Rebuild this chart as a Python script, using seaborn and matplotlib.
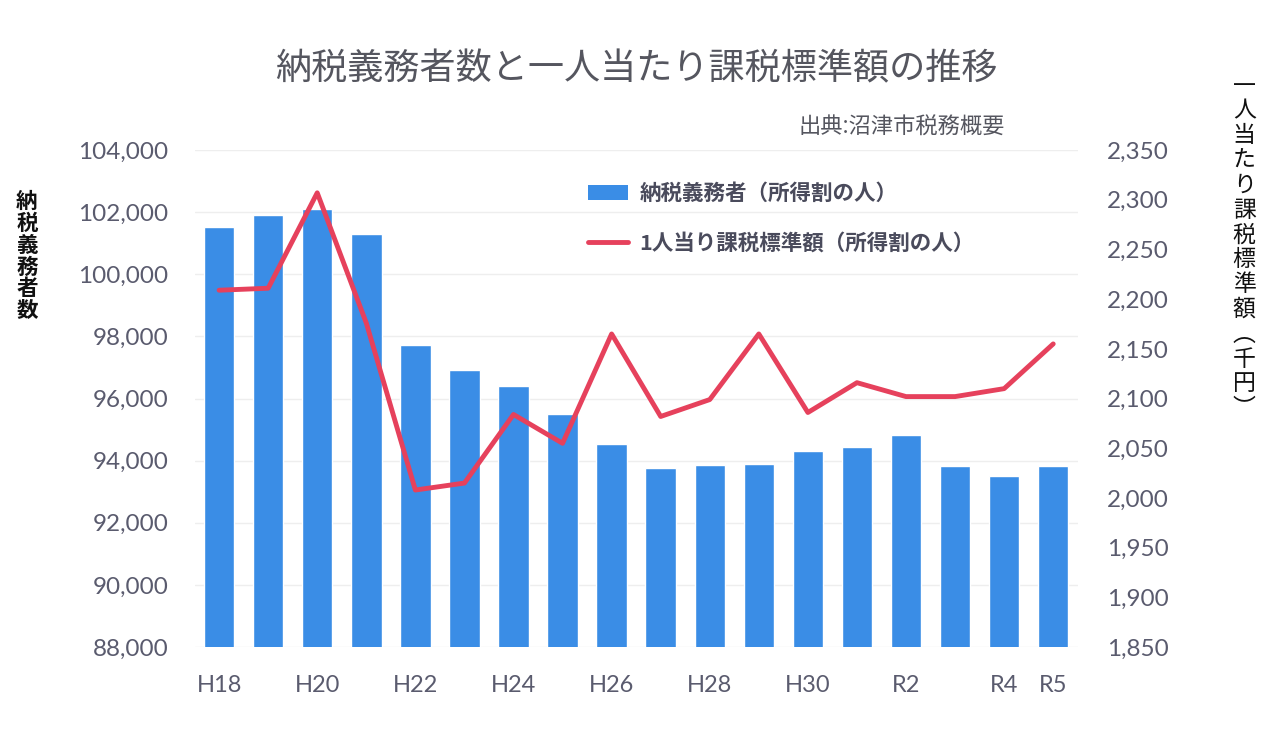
import matplotlib.pyplot as plt
import numpy as np
import pandas as pd
import seaborn as sns
from matplotlib.lines import Line2D
from matplotlib.patches import Patch

# 年度ごとのデータ
years = ['H18', 'H19', 'H20', 'H21', 'H22', 'H23', 'H24', 'H25', 'H26', 'H27',
         'H28', 'H29', 'H30', 'R1', 'R2', 'R3', 'R4', 'R5']
taxpayers = [101520, 101900, 102100, 101300, 97720, 96920, 96400, 95500, 94530,
             93760, 93860, 93890, 94310, 94440, 94820, 93830, 93500, 93830]
per_person = [2209, 2211, 2307, 2176, 2008, 2015, 2084, 2055, 2165, 2082,
              2099, 2165, 2086, 2116, 2102, 2102, 2110, 2155]
shown_labels = ['H18', 'H20', 'H22', 'H24', 'H26', 'H28', 'H30', 'R2', 'R4', 'R5']

left_ticks = list(range(88000, 104001, 2000))
right_ticks = list(range(1850, 2351, 50))

df = pd.DataFrame({'year': years, 'taxpayers': taxpayers, 'per_person': per_person,
                   'pos': np.arange(len(years))})

sns.set_style('white')
plt.rcParams['font.family'] = ['Noto Sans CJK JP', 'DejaVu Sans']
num_font = ['Lato', 'DejaVu Sans']

fig = plt.figure(figsize=(12.8, 7.32), dpi=100)
ax = fig.add_axes([0.152, 0.116, 0.690, 0.679])

bar_color = '#3a8de6'
line_color = '#e6415c'
tick_color = '#5a5b6e'

sns.barplot(data=df, x='year', y='taxpayers', color=bar_color, width=0.62,
            saturation=1, ax=ax, zorder=2)
ax.set_ylim(88000, 104000)
ax.set_yticks(left_ticks)
ax.set_yticklabels([f'{v:,}' for v in left_ticks], fontsize=17.5, color=tick_color,
                   family=num_font)
ax.set_xticks([years.index(l) for l in shown_labels])
ax.set_xticklabels(shown_labels, fontsize=17, color=tick_color, family=num_font)
ax.set_xlim(-0.5, len(years) - 0.5)
ax.set_xlabel('')
ax.set_ylabel('')
ax.grid(axis='y', color='#eeeeee', linewidth=1, zorder=0)
ax.tick_params(axis='y', length=0, pad=19)
ax.tick_params(axis='x', length=0, pad=20)
for s in ax.spines.values():
    s.set_visible(False)

ax2 = ax.twinx()
sns.lineplot(data=df, x='pos', y='per_person', color=line_color, linewidth=3.5, ax=ax2)
ax2.set_ylim(1850, 2350)
ax2.set_yticks(right_ticks)
ax2.set_yticklabels([f'{v:,}' for v in right_ticks], fontsize=17.5, color=tick_color,
                    family=num_font)
ax2.tick_params(axis='y', length=0, pad=21)
ax2.set_ylabel('')
for s in ax2.spines.values():
    s.set_visible(False)

fig.text(0.497, 0.905, '納税義務者数と一人当たり課税標準額の推移', ha='center', va='center',
         fontsize=26, color='#55565f')
fig.text(0.785, 0.826, '出典:沼津市税務概要', ha='right', va='center', fontsize=16,
         color='#55565f')

fig.text(0.021, 0.65, '\n'.join('納税義務者数'), ha='center', va='center', fontsize=15.5,
         color='#111111', linespacing=1.05, fontweight='bold')
fig.text(0.972, 0.662, '\n'.join('一人当たり課税標準額') + '\n︵\n千\n円\n︶', ha='center',
         va='center', fontsize=16.5, color='#111111', linespacing=1.1)

handles = [Patch(facecolor=bar_color, edgecolor='none'),
           Line2D([0], [0], color=line_color, linewidth=3.5)]
leg = ax.legend(handles, ['納税義務者（所得割の人）', '1人当り課税標準額（所得割の人）'],
                loc='upper left', bbox_to_anchor=(0.459, 0.75), bbox_transform=fig.transFigure,
                frameon=False, fontsize=15.5, handlelength=1.9, handleheight=0.75,
                labelspacing=1.35, handletextpad=0.5, borderpad=0, borderaxespad=0)
for t in leg.get_texts():
    t.set_color('#4a4b5c')
    t.set_fontweight('bold')

fig.savefig('out.png', dpi=100)
